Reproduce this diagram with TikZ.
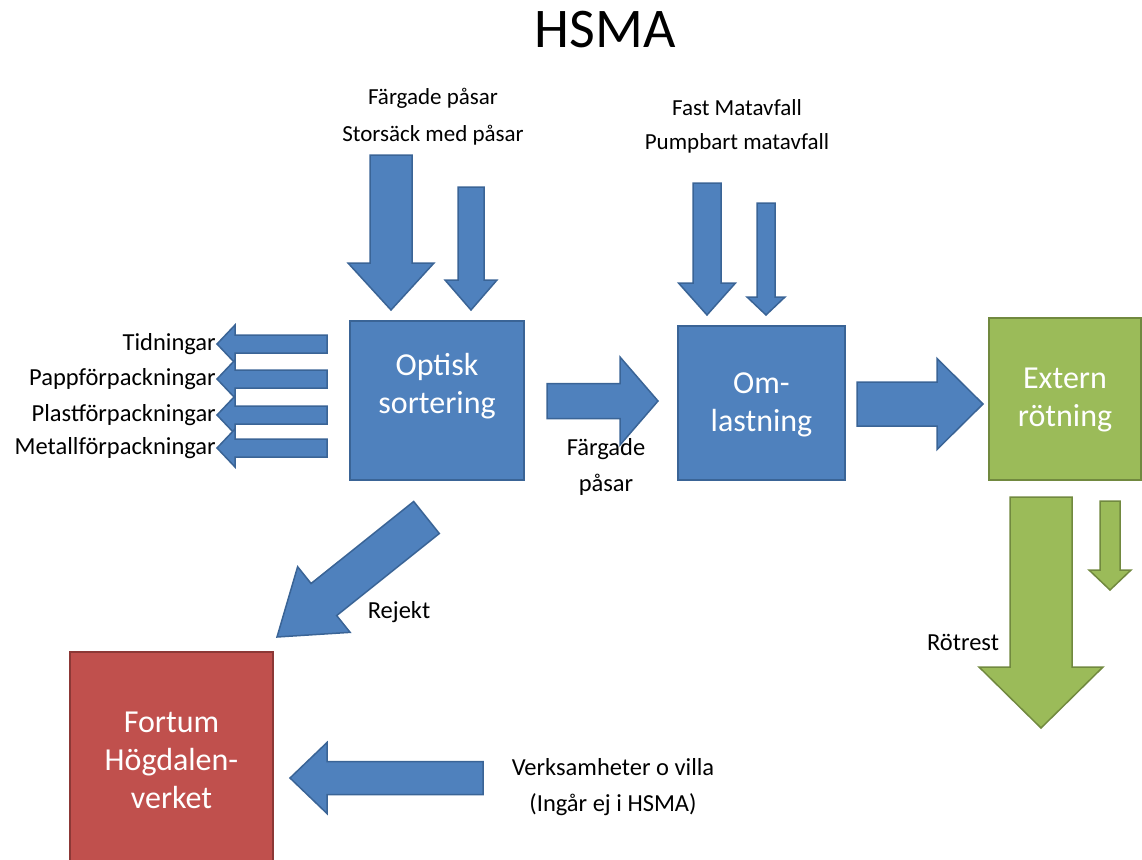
\documentclass[tikz,border=0pt]{standalone}
\usepackage{fontspec}
\setmainfont{Carlito}
\usetikzlibrary{calc,positioning}

\definecolor{hsblue}{HTML}{4F81BD}
\definecolor{hsblueline}{HTML}{3A6496}
\definecolor{hsgreen}{HTML}{9BBB59}
\definecolor{hsgreenline}{HTML}{71893F}
\definecolor{hsred}{HTML}{C0504D}
\definecolor{hsredline}{HTML}{8C3836}

\tikzset{
  box/.style={rectangle,line width=2pt,text=white,align=center,inner sep=0pt,
    font=\fontsize{32}{38}\selectfont},
  bluebox/.style={box,fill=hsblue,draw=hsblueline},
  greenbox/.style={box,fill=hsgreen,draw=hsgreenline},
  redbox/.style={box,fill=hsred,draw=hsredline},
  boxtext/.style={text=white,align=center,inner sep=0pt,font=\fontsize{32}{38}\selectfont},
  lbl/.style={inner sep=0pt,align=center,font=\fontsize{24.5}{36}\selectfont},
  toplbl/.style={lbl,font=\fontsize{23}{36}\selectfont},
  bluearrow/.style={fill=hsblue,draw=hsblueline,line width=1.5pt,line join=miter},
  greenarrow/.style={fill=hsgreen,draw=hsgreenline,line width=1.5pt,line join=miter}
}

% block arrow: style, tail, tip, half shaft, half head, head length
\newcommand\blockarrow[6]{%
  \coordinate (hb) at ($(#3)!#6pt!(#2)$);
  \filldraw[#1] ($(#2)!#4pt!90:(#3)$) -- ($(hb)!#4pt!90:(#3)$) -- ($(hb)!#5pt!90:(#3)$)
    -- (#3) -- ($(hb)!#5pt!-90:(#3)$) -- ($(hb)!#4pt!-90:(#3)$) -- ($(#2)!#4pt!-90:(#3)$) -- cycle;
}

\begin{document}
\begin{tikzpicture}[x=1pt,y=-1pt] % HSMA flow
        \useasboundingbox (0,0) rectangle (1142,859);
        \clip (0,0) rectangle (1142,859);
        \node[font=\fontsize{56}{62}\selectfont] (title) at (605,30) {HSMA};

        \node[bluebox,minimum width=174pt,minimum height=159pt] (opt) at (437,400.5) {};
        \node[boxtext] (opttext) at (437,386) {Optisk\\sortering};
        \node[bluebox,minimum width=167pt,minimum height=154pt] (oml) at (761.5,403) {};
        \node[boxtext] (omltext) at (761.5,405) {Om-\\lastning};
        \node[greenbox,minimum width=152pt,minimum height=162pt] (ext) at (1065,399) {};
        \node[boxtext] (exttext) at (1065,400) {Extern\\rötning};
        \node[redbox,minimum width=203pt,minimum height=216pt] (fort) at (171.5,760) {Fortum\\Högdalen-\\verket};

        \node[toplbl] (inA1) at (433,98) {Färgade påsar};
        \node[toplbl] (inA2) at (433,135) {Storsäck med påsar};
        \node[toplbl] (inB1) at (737,108) {Fast Matavfall};
        \node[toplbl] (inB2) at (737,143) {Pumpbart matavfall};
        \node[lbl,anchor=east] (out1) at (216,344) {Tidningar};
        \node[lbl,anchor=east] (out2) at (216,379) {Pappförpackningar};
        \node[lbl,anchor=east] (out3) at (216,415) {Plastförpackningar};
        \node[lbl,anchor=east] (out4) at (216,448) {Metallförpackningar};
        \node[lbl] (fp) at (606,467) {Färgade\\påsar};
        \node[lbl] (rej) at (399,612) {Rejekt};
        \node[lbl] (rot) at (963,642) {Rötrest};
        \node[lbl] (verk) at (613,787) {Verksamheter o villa\\(Ingår ej i HSMA)};

        \coordinate (a1t) at (391,155);   \coordinate (a1h) at (391,310);
        \coordinate (a2t) at (471,187);   \coordinate (a2h) at (471,310);
        \coordinate (b1t) at (707,183);   \coordinate (b1h) at (707,315);
        \coordinate (b2t) at (766,203);   \coordinate (b2h) at (766,315);
        \coordinate (c1t) at (547,401);   \coordinate (c1h) at (658,401);
        \coordinate (c2t) at (857,404);   \coordinate (c2h) at (983,404);
        \coordinate (g1t) at (1041,497);  \coordinate (g1h) at (1041,728);
        \coordinate (g2t) at (1110,501);  \coordinate (g2h) at (1110,590);
        \coordinate (rt) at (426.5,517.5); \coordinate (rh) at (277,637);
        \coordinate (vt) at (483,778);    \coordinate (vh) at (290,778);

        \foreach \y in {344,379,415,448}{
          \coordinate (ot) at (327,\y); \coordinate (oh) at (217,\y);
          \blockarrow{bluearrow}{ot}{oh}{9}{19}{18}
        }
        \blockarrow{bluearrow}{a1t}{a1h}{21}{43}{47}
        \blockarrow{bluearrow}{a2t}{a2h}{13}{26}{30}
        \blockarrow{bluearrow}{b1t}{b1h}{14}{28.5}{32}
        \blockarrow{bluearrow}{b2t}{b2h}{9}{19}{18}
        \blockarrow{bluearrow}{c1t}{c1h}{17.5}{44}{38}
        \blockarrow{bluearrow}{c2t}{c2h}{22}{45.5}{46}
        \blockarrow{greenarrow}{g1t}{g1h}{31}{62}{61}
        \blockarrow{greenarrow}{g2t}{g2h}{10}{21}{20}
        \blockarrow{bluearrow}{rt}{rh}{20.5}{42}{60}
        \blockarrow{bluearrow}{vt}{vh}{16.5}{35.5}{37}
\end{tikzpicture}
\end{document}
